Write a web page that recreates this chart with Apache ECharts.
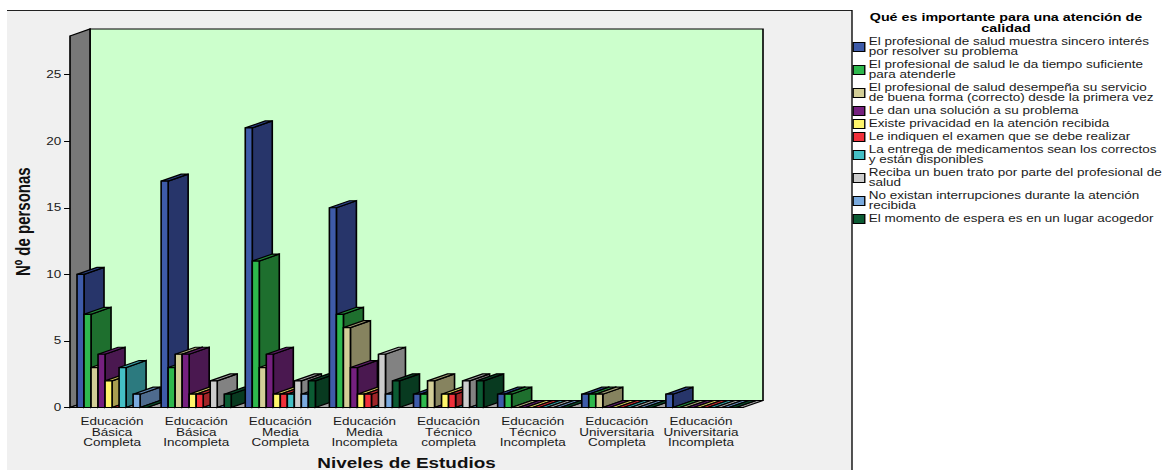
<!DOCTYPE html>
<html lang="es">
<head>
<meta charset="utf-8">
<title>Niveles de Estudios</title>
<script src="https://cdn.jsdelivr.net/npm/echarts@6/dist/echarts.min.js"></script>
<style>
  html, body { margin: 0; padding: 0; background: #fff; overflow: hidden; }
  /* The chart is laid out narrow and widened, which gives the broad lettering and heavy verticals. */
  #chart { height: 470px; transform-origin: 0 0; }
</style>
</head>
<body>
<div id="chart"></div>
<script>
const categories = [
  'Educación\nBásica\nCompleta', 'Educación\nBásica\nIncompleta',
  'Educación\nMedia\nCompleta', 'Educación\nMedia\nIncompleta',
  'Educación\nTécnico\ncompleta', 'Educación\nTécnico\nIncompleta',
  'Educación\nUniversitaria\nCompleta', 'Educación\nUniversitaria\nIncompleta'
];
const yTicks = [0, 5, 10, 15, 20, 25];

const sincero      = [10, 17, 21, 15, 1, 1, 1, 1];
const tiempo       = [7, 3, 11, 7, 1, 1, 1, 0];
const desempena    = [3, 4, 3, 6, 2, 0, 1, 0];
const solucion     = [4, 4, 4, 3, 0, 0, 0, 0];
const privacidad   = [2, 1, 1, 1, 1, 0, 0, 0];
const examen       = [0, 1, 1, 1, 1, 0, 0, 0];
const medicamentos = [3, 0, 1, 0, 0, 0, 0, 0];
const buenTrato    = [0, 2, 2, 4, 2, 0, 0, 0];
const interrupcion = [1, 0, 1, 1, 0, 0, 0, 0];
const espera       = [0, 1, 2, 2, 2, 0, 0, 0];

const seriesNames = [
  'El profesional de salud muestra sincero interés\npor resolver su problema',
  'El profesional de salud le da tiempo suficiente\npara atenderle',
  'El profesional de salud desempeña su servicio\nde buena forma (correcto) desde la primera vez',
  'Le dan una solución a su problema',
  'Existe privacidad en la atención recibida',
  'Le indiquen el examen que se debe realizar',
  'La entrega de medicamentos sean los correctos\ny están disponibles',
  'Reciba un buen trato por parte del profesional de\nsalud',
  'No existan interrupciones durante la atención\nrecibida',
  'El momento de espera es en un lugar acogedor'
];
const seriesValues = [sincero, tiempo, desempena, solucion, privacidad, examen,
                      medicamentos, buenTrato, interrupcion, espera];

const frontColors = ['#3e5ba9', '#2eb84d', '#d3ce97', '#75207f', '#fff56b', '#f0303a', '#44bfc5', '#cccccc', '#7aaade', '#0b5b33'];
const sideColors  = ['#27356a', '#1e6f2e', '#86835f', '#4a1850', '#a89e50', '#a02528', '#2c7a7f', '#828282', '#4e6b8e', '#083a20'];
const topColors   = ['#2d4388', '#24893a', '#a5a277', '#5c1c65', '#cdc35c', '#c42a30', '#359a9f', '#a3a3a3', '#5f86b0', '#094a29'];

const SCALE_X = 1.35;                 // horizontal widening applied to the chart element
const CHART_WIDTH = 1163 / SCALE_X;
const DEPTH_X = 20 / SCALE_X;         // receding offset of the 3D box
const DEPTH_Y = 7;
const Y_MAX = 27.9;
const UNITS_PER_BAND = 12;            // ten bars plus one bar-width margin on each side
const EDGE = { stroke: '#000', lineWidth: 1.2 };

// One bar: side and top faces recede from the front rectangle; a zero value leaves only the flat top.
function renderBar(seriesIndex) {
  return function (params, api) {
    const cat = api.value(0);
    const base = api.coord([cat, 0]);
    const head = api.coord([cat, api.value(1)]);
    const band = api.size([1, 0])[0];
    const w = band / UNITS_PER_BAND;
    const x0 = base[0] - band / 2 + w * (seriesIndex + 1);
    const x1 = x0 + w;
    const yb = base[1];
    const yt = head[1];
    const z2 = 10 + cat * 20 + seriesIndex;
    const poly = (points, fill) => ({
      type: 'polygon', z2, silent: true,
      shape: { points },
      style: Object.assign({ fill }, EDGE)
    });
    const children = [];
    children.push(poly([[x1, yb], [x1 + DEPTH_X, yb - DEPTH_Y], [x1 + DEPTH_X, yt - DEPTH_Y], [x1, yt]], sideColors[seriesIndex]));
    children.push(poly([[x0, yt], [x1, yt], [x1 + DEPTH_X, yt - DEPTH_Y], [x0 + DEPTH_X, yt - DEPTH_Y]], topColors[seriesIndex]));
    if (yb > yt) {
      children.push(poly([[x0, yb], [x1, yb], [x1, yt], [x0, yt]], frontColors[seriesIndex]));
    }
    return { type: 'group', children };
  };
}

// Back wall, left wall and floor of the box, taken from the axis extents.
function renderWalls(params, api) {
  const band = api.size([1, 0])[0];
  const left = api.coord([0, 0])[0] - band / 2;
  const right = left + band * categories.length;
  const yb = api.coord([0, 0])[1];
  const yt = api.coord([0, Y_MAX])[1];
  const poly = (points, fill) => ({
    type: 'polygon', z2: 1, silent: true, shape: { points },
    style: Object.assign({ fill }, EDGE)
  });
  return {
    type: 'group',
    children: [
      poly([[left + DEPTH_X, yt - DEPTH_Y], [right + DEPTH_X, yt - DEPTH_Y], [right + DEPTH_X, yb - DEPTH_Y], [left + DEPTH_X, yb - DEPTH_Y]], '#ccffcc'),
      poly([[left, yt], [left + DEPTH_X, yt - DEPTH_Y], [left + DEPTH_X, yb - DEPTH_Y], [left, yb]], '#787878'),
      poly([[left, yb], [right, yb], [right + DEPTH_X, yb - DEPTH_Y], [left + DEPTH_X, yb - DEPTH_Y]], '#a0a0a0')
    ]
  };
}

const FONT = '"Liberation Sans", Arial, sans-serif';
const TEXT_COLOR = '#1a1a1a';
const PANEL_RIGHT = 852 / SCALE_X;
const PANEL_LEFT = 7 / SCALE_X;

const chartEl = document.getElementById('chart');
chartEl.style.width = CHART_WIDTH + 'px';
chartEl.style.transform = 'scaleX(' + SCALE_X + ')';
const chart = echarts.init(chartEl, null, { renderer: 'svg', width: CHART_WIDTH, height: 470 });

chart.setOption({
  animation: false,
  backgroundColor: '#fff',
  graphic: [
    { type: 'rect', z: -1, silent: true, shape: { x: PANEL_LEFT, y: 10, width: PANEL_RIGHT - PANEL_LEFT, height: 460 }, style: { fill: '#f0f0f0' } },
    { type: 'line', z: -1, silent: true, shape: { x1: PANEL_LEFT, y1: 10.5, x2: PANEL_RIGHT, y2: 10.5 }, style: { stroke: '#222', lineWidth: 1 } },
    { type: 'line', z: -1, silent: true, shape: { x1: PANEL_RIGHT, y1: 10, x2: PANEL_RIGHT, y2: 470 }, style: { stroke: '#000', lineWidth: 1 } }
  ],
  title: {
    text: 'Qué es importante para una atención de\ncalidad',
    left: 1006 / SCALE_X,
    top: 12,
    padding: 0,
    textAlign: 'center',
    textStyle: { fontFamily: FONT, fontSize: 10.6, fontWeight: 'bold', lineHeight: 11, color: '#000' }
  },
  legend: {
    orient: 'vertical',
    left: 852.5 / SCALE_X,
    top: 37,
    padding: 0,
    itemGap: 3,
    itemWidth: 8.6,
    itemHeight: 9,
    itemStyle: { borderColor: '#000', borderWidth: 1 },
    icon: 'rect',
    selectedMode: false,
    align: 'left',
    data: seriesNames,
    textStyle: { fontFamily: FONT, fontSize: 10, lineHeight: 10, color: TEXT_COLOR, padding: [0, 0, 0, -2] }
  },
  grid: { left: 70 / SCALE_X, top: 36, width: 673 / SCALE_X, height: 371.5, outerBoundsMode: 'none' },
  xAxis: {
    type: 'category',
    data: categories,
    name: 'Niveles de Estudios',
    nameLocation: 'middle',
    nameGap: 49,
    nameTextStyle: { fontFamily: FONT, fontSize: 14, fontWeight: 'bold', color: '#111' },
    axisLine: { lineStyle: { color: '#000', width: 1 } },
    axisTick: { alignWithLabel: true, length: 7, lineStyle: { color: '#000', width: 1 } },
    axisLabel: { interval: 0, margin: 9, fontFamily: FONT, fontSize: 10, lineHeight: 10.5, color: TEXT_COLOR },
    z: 5
  },
  yAxis: {
    type: 'value',
    min: 0,
    max: Y_MAX,
    name: 'Nº de personas',
    nameLocation: 'middle',
    nameRotate: 90,
    nameGap: 27,
    nameMoveOverlap: false,
    nameTextStyle: { fontFamily: FONT, fontSize: 15, fontWeight: 'bold', color: '#111' },
    splitLine: { show: false },
    axisLine: { show: true, lineStyle: { color: '#000', width: 1 } },
    axisTick: { show: true, length: 4.4, customValues: yTicks, lineStyle: { color: '#000', width: 1 } },
    axisLabel: { margin: 6.5, customValues: yTicks, fontFamily: FONT, fontSize: 10, color: TEXT_COLOR }
  },
  series: [
    {
      type: 'custom',
      name: 'paredes',
      renderItem: renderWalls,
      data: [[0, 0]],
      encode: { x: 0, y: 1 },
      silent: true
    }
  ].concat(seriesValues.map((values, i) => ({
    type: 'custom',
    name: seriesNames[i],
    renderItem: renderBar(i),
    data: values.map((v, c) => [c, v]),
    encode: { x: 0, y: 1 },
    itemStyle: { color: frontColors[i] },
    silent: true
  })))
});
</script>
</body>
</html>
